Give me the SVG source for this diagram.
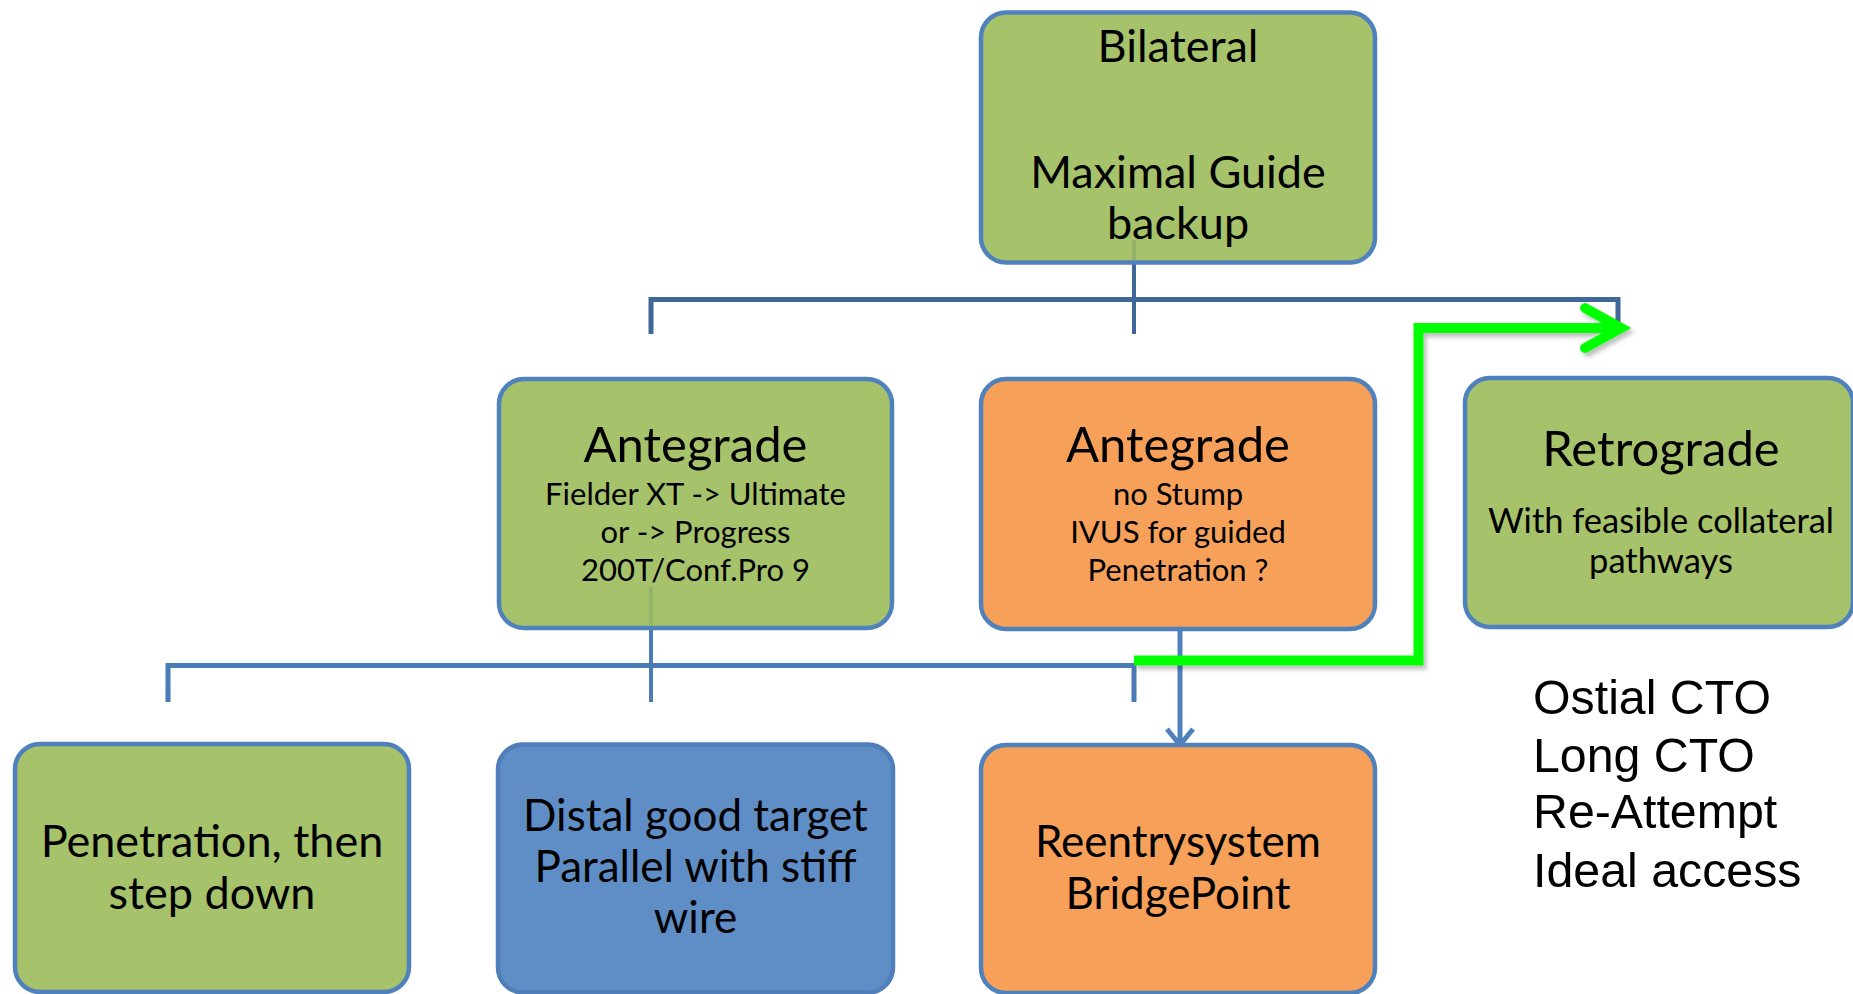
<svg xmlns="http://www.w3.org/2000/svg" width="1853" height="994" viewBox="0 0 1853 994">
<defs>
<style>
.box{stroke:#4f81bd;stroke-width:4.5}
.g{fill:#a6c26b}
.o{fill:#f6a05a}
.b{fill:#5f8dc5;stroke:#4f7fba}
.t{font-family:Lato,"Liberation Sans",sans-serif;fill:#000;text-anchor:middle}
.big{font-size:45px}
.big2{font-size:44px}
.title{font-size:49px}
.small{font-size:31px}
.mid{font-size:34.5px}
.list{font-family:"Liberation Sans",Arial,sans-serif;font-size:48.3px;fill:#000}
.top{fill:none;stroke:#3f6898;stroke-width:5}
.low{fill:none;stroke:#4a7bb7;stroke-width:5}
.drop{stroke-width:4}
</style>
<filter id="sh" x="-10%" y="-10%" width="120%" height="120%">
<feDropShadow dx="3" dy="4" stdDeviation="2" flood-color="#000" flood-opacity="0.25"/>
</filter>
</defs>
<rect width="1853" height="994" fill="#fff"/>
<g id="connectors">
<path class="top" d="M651,334 V299.5 H1618 V334"/>
<path class="top drop" d="M1134,262 V334"/>
<path class="low" d="M168,702 V665.5 H1134 V702"/>
<path class="low drop" d="M651,628 V702"/>
<path d="M1180,631 V744 M1167,729 L1180,745 L1193,729" fill="none" stroke="#4f81bd" stroke-width="5"/>
<g filter="url(#sh)">
<path d="M1134,660.5 H1418.5 V328 H1622" fill="none" stroke="#00ff00" stroke-width="10" stroke-linejoin="miter"/>
<path d="M1585,308 L1621,328 L1585,348" fill="none" stroke="#00ff00" stroke-width="10" stroke-linecap="round" stroke-linejoin="miter"/>
</g>
</g>
<g id="bilateral">
<rect class="box g" x="981" y="12.5" width="394" height="250" rx="25"/>
<line x1="1134" y1="240" x2="1134" y2="260" stroke="#93b366" stroke-width="4"/>
<text class="t big" x="1178" y="62">Bilateral</text>
<text class="t big" x="1178" y="188">Maximal Guide</text>
<text class="t big" x="1178" y="239">backup</text>
</g>
<g id="antegrade1">
<rect class="box g" x="499" y="379" width="393" height="249" rx="25"/>
<line x1="651" y1="587" x2="651" y2="626" stroke="#93b366" stroke-width="4"/>
<text class="t title" x="695.5" y="461.7">Antegrade</text>
<text class="t small" x="695.5" y="505">Fielder XT -&gt; Ultimate</text>
<text class="t small" x="695.5" y="542.7">or -&gt; Progress</text>
<text class="t small" x="695.5" y="581">200T/Conf.Pro 9</text>
</g>
<g id="antegrade2">
<rect class="box o" x="981" y="379" width="394" height="250" rx="25"/>
<text class="t title" x="1178" y="461.7">Antegrade</text>
<text class="t small" x="1178" y="505">no Stump</text>
<text class="t small" x="1178" y="542.7">IVUS for guided</text>
<text class="t small" x="1178" y="581">Penetration ?</text>
</g>
<g id="retrograde">
<rect class="box g" x="1465" y="378" width="388" height="249" rx="25"/>
<text class="t title" x="1661" y="466">Retrograde</text>
<text class="t mid" x="1661" y="533">With feasible collateral</text>
<text class="t mid" x="1661" y="573">pathways</text>
</g>
<g id="penetration">
<rect class="box g" x="15" y="744" width="394" height="248" rx="25"/>
<text class="t big" x="212" y="857">Penetration, then</text>
<text class="t big" x="212" y="909">step down</text>
</g>
<g id="distal">
<rect class="box b" x="498" y="744.5" width="395" height="248" rx="25"/>
<text class="t big2" x="695.5" y="831">Distal good target</text>
<text class="t big2" x="695.5" y="882">Parallel with stiff</text>
<text class="t big2" x="695.5" y="933">wire</text>
</g>
<g id="reentry">
<rect class="box o" x="981" y="745" width="394" height="248" rx="25"/>
<text class="t big2" x="1178" y="857">Reentrysystem</text>
<text class="t big2" x="1178" y="909">BridgePoint</text>
</g>
<g id="criteria">
<text class="list" x="1533" y="714">Ostial CTO</text>
<text class="list" x="1533" y="771.5">Long CTO</text>
<text class="list" x="1533" y="828">Re-Attempt</text>
<text class="list" x="1533" y="886.5">Ideal access</text>
</g>
</svg>
